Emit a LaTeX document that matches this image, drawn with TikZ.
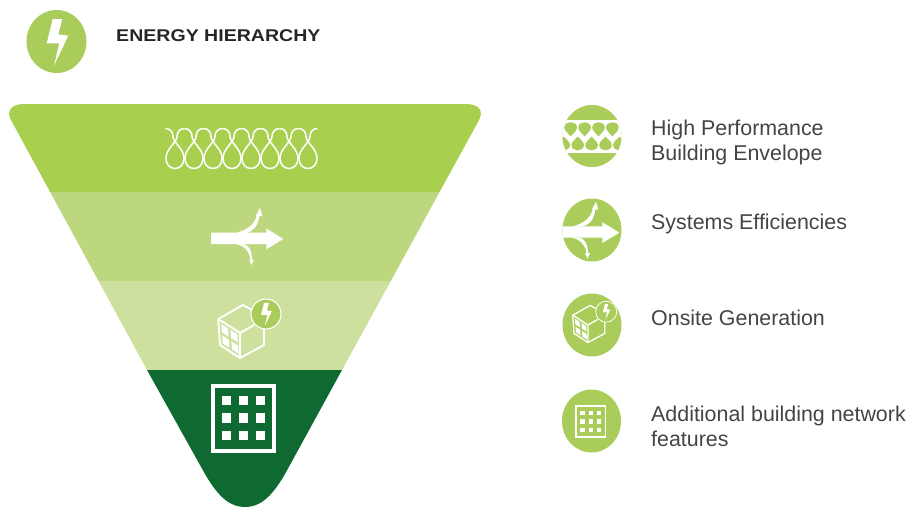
\documentclass[tikz,border=0pt]{standalone}
\usepackage{fontspec}
\setmainfont{Liberation Sans}
\definecolor{gA}{HTML}{A9CF4E}
\definecolor{gB}{HTML}{BDD77E}
\definecolor{gC}{HTML}{CDE09E}
\definecolor{gD}{HTML}{0F6A32}
\definecolor{gI}{HTML}{A9CC5A}
\definecolor{txt}{HTML}{444444}
\newcommand{\boltshape}{(-3.8,-22.5) -- (5.8,-22.5) -- (1.8,-7.2) -- (11.8,-5.8) -- (-2.5,24.2) -- (2.8,1.8) -- (-9.8,1.8) -- cycle}
\newcommand{\insulicon}[3]{%
  \begin{scope}[shift={(#1,#2)},scale=#3]
  \foreach \i in {0,...,7}{
    \draw[insul,xshift=\i*19pt] (9.5,0) .. controls (4.5,0) and (2,4) .. (2,8) .. controls (2,14) and (-9,20) .. (-9,30) .. controls (-9,36) and (-5,40) .. (0,40) .. controls (5,40) and (9,36) .. (9,30) .. controls (9,20) and (-2,14) .. (-2,8) .. controls (-2,4) and (-4.5,0) .. (-9.5,0);
  }
  \end{scope}}
\newcommand{\arrowicon}[2]{%
  \begin{scope}[shift={(#1,#2)}]
  \fill[white] (211,232.7) -- (266.3,232.7) -- (266.3,228.5) -- (283.3,239) -- (266.3,249.3) -- (266.3,244) -- (211,244) -- cycle;
  \fill[white] (236,233) .. controls (246,230) and (254,226) .. (257,215) -- (259.5,215) .. controls (258,226) and (254,231) .. (246,233) -- cycle;
  \fill[white] (255.8,216) -- (260,208) -- (262.3,216) -- cycle;
  \fill[white] (236,244) .. controls (245,246) and (250,252) .. (250.5,260) -- (252,260) .. controls (252,250) and (248,244) .. (243,244) -- cycle;
  \fill[white] (249,259.5) -- (251.5,265) -- (254,259.5) -- cycle;
  \end{scope}}
\newcommand{\cubeicon}[3]{%
  \begin{scope}[shift={(#1,#2)},scale=#3]
  \draw[white,line width=#3*1.9pt,line join=round] (12,-23) -- (3,-28) -- (-21.7,-14) -- (-20,12) -- (0,25) -- (24,12) -- (24,-5);
  \draw[white,line width=#3*1.9pt,line join=round] (-21.7,-14) -- (0,0) -- (0,25);
  \draw[white,line width=#3*1.9pt] (0,0) -- (14,-8);
  \foreach \u in {.14,.56}\foreach \v in {.12,.56}{
    \fill[white] ({-22+22*\u+2*\v},{-14+14*\u+26*\v}) -- ({-22+22*(\u+.3)+2*\v},{-14+14*(\u+.3)+26*\v}) -- ({-22+22*(\u+.3)+2*(\v+.31)},{-14+14*(\u+.3)+26*(\v+.31)}) -- ({-22+22*\u+2*(\v+.31)},{-14+14*\u+26*(\v+.31)}) -- cycle;
  }
  \fill[gI] (26,-19) circle (15);
  \draw[white,line width=#3*1.1pt] (26,-19) circle (15);
  \begin{scope}[shift={(26,-19)},scale=.5]
  \fill[white] \boltshape;
  \end{scope}
  \end{scope}}
\newcommand{\gridicon}[4]{%
  \begin{scope}[shift={(#1,#2)},scale=#3]
  \draw[white,line width=#4] (-30.5,-32.5) rectangle (30.5,32.5);
  \foreach \x in {-17,0,17}\foreach \y in {-17.6,0,17.6}{
    \fill[white] ({\x-4.7},{\y-4.7}) rectangle ({\x+4.7},{\y+4.7});
  }
  \end{scope}}
\newcommand{\lobeup}[1]{\fill[gI] (#1,136.4) .. controls (#1-3,133) and (#1-6.3,130.5) .. (#1-6.3,127.5) .. controls (#1-6.3,124) and (#1-3,122.2) .. (#1,122.2) .. controls (#1+3,122.2) and (#1+6.3,124) .. (#1+6.3,127.5) .. controls (#1+6.3,130.5) and (#1+3,133) .. (#1,136.4) -- cycle;}
\newcommand{\lobedown}[1]{\fill[gI] (#1,136.6) .. controls (#1-3,140) and (#1-6.3,142) .. (#1-6.3,145) .. controls (#1-6.3,148.5) and (#1-3,150.4) .. (#1,150.4) .. controls (#1+3,150.4) and (#1+6.3,148.5) .. (#1+6.3,145) .. controls (#1+6.3,142) and (#1+3,140) .. (#1,136.6) -- cycle;}
\tikzset{
  insul/.style={white,line width=1.5pt},
  label/.style={anchor=west,inner sep=0pt,text=txt,font=\fontsize{21.4}{25}\selectfont,align=left},
  roundel/.style={fill=gI}
}
\begin{document}
\begin{tikzpicture}[x=1pt,y=-1pt]
\useasboundingbox (0,0) rectangle (907,507);
% header
\fill[roundel] (56.5,41.5) ellipse (30 and 31.5);
\begin{scope}[shift={(56.5,41.5)}]
\fill[white] \boltshape;
\end{scope}
\node[anchor=west,inner sep=0pt,text=black!85,font=\bfseries\fontsize{17}{20}\selectfont,xscale=1.15] (title) at (116,36) {ENERGY HIERARCHY};
% funnel
\begin{scope}
\clip (245,104) -- (466,104) .. controls (480,104) and (484,112) .. (478.5,121) -- (342,370) -- (285,474) .. controls (270,500) and (258,507) .. (245,507) .. controls (232,507) and (220,500) .. (205,474) -- (147,370) -- (11.5,121) .. controls (6,112) and (10,104) .. (24,104) -- cycle;
\fill[gA] (0,104) rectangle (490,192);
\fill[gB] (0,192) rectangle (490,281);
\fill[gC] (0,281) rectangle (490,370);
\fill[gD] (0,370) rectangle (490,507);
\end{scope}
\insulicon{175}{128.5}{1}
\arrowicon{0}{0}
\cubeicon{240}{333}{1}
\gridicon{243.5}{418}{1}{4pt}
% legend
\fill[roundel] (592,136) ellipse (29.5 and 31);
\begin{scope}
\clip (592,136) ellipse (29.5 and 31);
\fill[white] (555,119.5) rectangle (630,153);
\foreach \c in {570.7,584.6,598.5,612.4}{\lobeup{\c}}
\foreach \c in {563.8,577.7,591.6,605.5,619.4}{\lobedown{\c}}
\end{scope}
\fill[roundel] (592,230) ellipse (29.5 and 31.5);
\begin{scope}
\clip (592,230) ellipse (29.5 and 31.5);
\arrowicon{336}{-6.3}
\end{scope}
\fill[roundel] (592,325) ellipse (29.5 and 31.5);
\cubeicon{588}{325}{.7}
\fill[roundel] (591.5,421) ellipse (29.5 and 31.5);
\gridicon{590.8}{421.5}{.48}{1.8pt}
\node[label] (l1) at (651,142) {High Performance\\Building Envelope};
\node[label] (l2) at (651,224) {Systems Efficiencies};
\node[label] (l3) at (651,318) {Onsite Generation};
\node[label] (l4) at (651,426.5) {Additional building network\\features};
\end{tikzpicture}
\end{document}
